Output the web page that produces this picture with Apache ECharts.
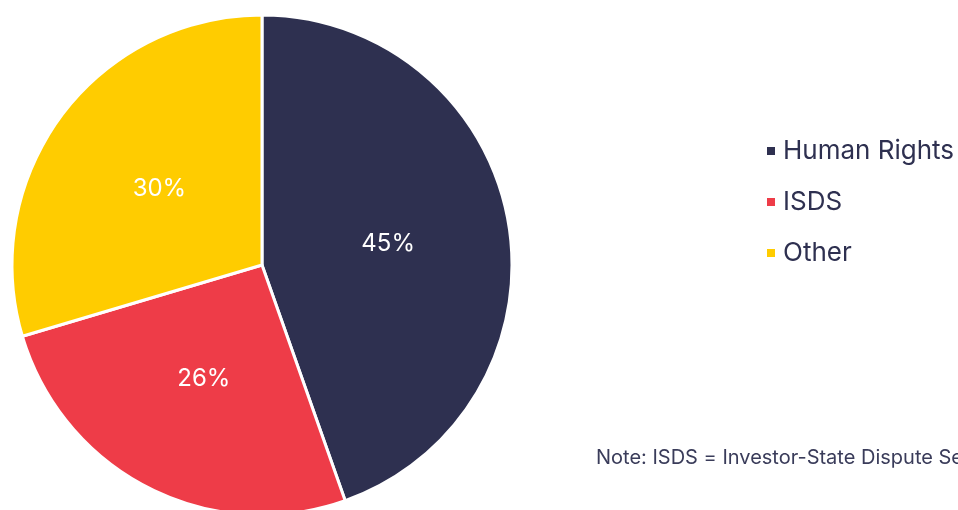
<!DOCTYPE html>
<html><head><meta charset="utf-8">
<script src="https://cdn.jsdelivr.net/npm/echarts@6/dist/echarts.min.js"></script>
<style>html,body{margin:0;padding:0;background:#fff}#c{width:958px;height:510px}</style>
</head><body><div id="c"></div>
<script>
const categories = ['Human Rights', 'ISDS', 'Other'];
const values = [44.6, 25.8, 29.6];
const colors = ['#2e3050', '#ee3c48', '#ffcc00'];
const noteText = 'Note: ISDS = Investor-State Dispute Settlement';

const chart = echarts.init(document.getElementById('c'));
chart.setOption({
  animation: false,
  textStyle: { fontFamily: 'Inter' },
  title: {
    text: noteText, left: 596, top: 448, padding: 0,
    textStyle: { fontFamily: 'Inter', fontSize: 20, fontWeight: 'normal', color: '#3a3c5a' }
  },
  legend: {
    orient: 'vertical', left: 765, top: 138, padding: 0,
    itemWidth: 10, itemHeight: 10, itemGap: 25,
    icon: 'rect',
    data: categories,
    textStyle: { fontFamily: 'Inter', fontSize: 26, color: '#2e3050', padding: [0, 0, 0, 2] }
  },
  series: [{
    type: 'pie',
    center: [262, 265],
    radius: [0, 250],
    startAngle: 90,
    clockwise: true,
    itemStyle: { borderColor: '#fff', borderWidth: 3 },
    label: {
      position: 'inside', color: '#fff', fontSize: 24, fontFamily: 'Inter',
      formatter: p => Math.round(p.value) + '%'
    },
    labelLine: { show: false },
    emphasis: { disabled: true },
    data: categories.map((n, i) => ({ name: n, value: values[i], itemStyle: { color: colors[i] } }))
  }]
});
</script></body></html>
